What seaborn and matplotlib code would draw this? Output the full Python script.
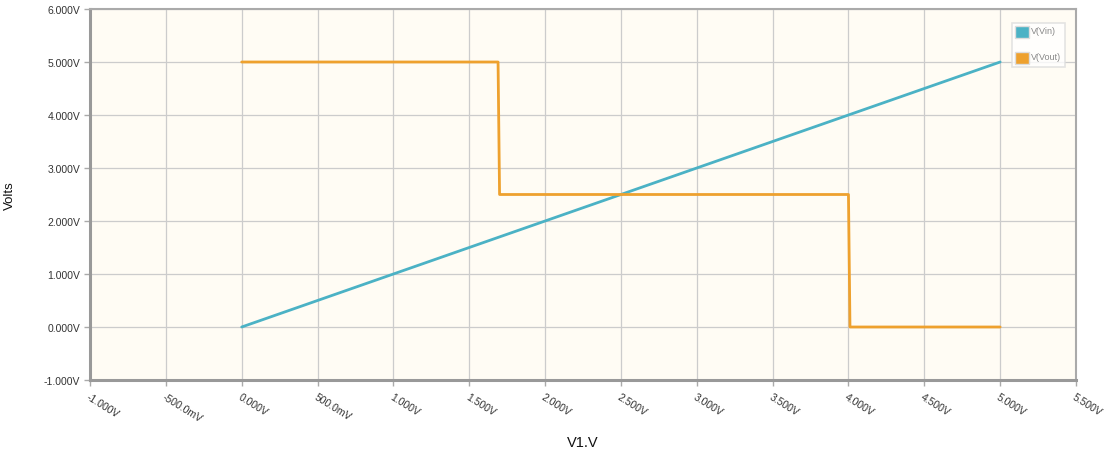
import matplotlib
matplotlib.use("Agg")
import matplotlib.pyplot as plt
import seaborn as sns
import pandas as pd
from matplotlib.patches import Patch

sns.set_theme(style="white")
plt.rcParams['font.family'] = ['Liberation Sans', 'DejaVu Sans']

vin_x = [0.0, 5.0]
vin_y = [0.0, 5.0]
vout_x = [0.0, 1.69, 1.70, 4.0, 4.01, 5.0]
vout_y = [5.0, 5.0, 2.5, 2.5, 0.0, 0.0]

x_ticks = [-1.0, -0.5, 0.0, 0.5, 1.0, 1.5, 2.0, 2.5, 3.0, 3.5, 4.0, 4.5, 5.0, 5.5]
x_labels = ["-1.000V", "-500.0mV", "0.000V", "500.0mV", "1.000V", "1.500V", "2.000V",
            "2.500V", "3.000V", "3.500V", "4.000V", "4.500V", "5.000V", "5.500V"]
y_ticks = [-1, 0, 1, 2, 3, 4, 5, 6]
y_labels = ["-1.000V", "0.000V", "1.000V", "2.000V", "3.000V", "4.000V", "5.000V", "6.000V"]

c_vin = "#4bb2c5"
c_vout = "#eea12e"

df_in = pd.DataFrame({"x": vin_x, "y": vin_y})
df_out = pd.DataFrame({"x": vout_x, "y": vout_y})

fig = plt.figure(figsize=(11.08, 4.6), dpi=100)
ax = fig.add_axes([90/1108, 1-381/460, (1076-90)/1108, (381-10)/460])
ax.set_facecolor("#fffcf4")

sns.lineplot(data=df_in, x="x", y="y", ax=ax, color=c_vin, lw=2, sort=False, estimator=None)
sns.lineplot(data=df_out, x="x", y="y", ax=ax, color=c_vout, lw=2, sort=False, estimator=None)

ax.set_xlim(-1.0, 5.5)
ax.set_ylim(-1.0, 6.0)
ax.set_xticks(x_ticks)
ax.set_xticklabels(x_labels, rotation=-32, ha="left", va="top", rotation_mode="anchor",
                   fontsize=7.5, color="#333333")
ax.set_yticks(y_ticks)
ax.set_yticklabels(y_labels, fontsize=7.5, color="#333333")
ax.grid(True, color="#cccccc", lw=0.9)
ax.set_axisbelow(True)
ax.tick_params(axis="both", which="both", length=4, width=1, color="#aaaaaa", pad=3,
               left=True, bottom=True, direction="out")
ax.tick_params(axis="x", pad=4)

for s in ["top", "right"]:
    ax.spines[s].set_color("#aaaaaa")
    ax.spines[s].set_linewidth(1.5)
for s in ["left", "bottom"]:
    ax.spines[s].set_color("#999999")
    ax.spines[s].set_linewidth(2.2)

ax.set_xlabel("V1.V", fontsize=10.5, color="#111111")
ax.set_ylabel("Volts", fontsize=9.5, color="#111111")
ax.xaxis.set_label_coords(0.5, -0.147)
ax.yaxis.set_label_coords(-0.075, 0.5)

handles = [Patch(facecolor=c_vin, edgecolor="#dddddd", label="V(Vin)"),
           Patch(facecolor=c_vout, edgecolor="#dddddd", label="V(Vout)")]
leg = ax.legend(handles=handles, loc="upper right", bbox_to_anchor=(0.9885, 0.962),
                fontsize=6.5, frameon=True, fancybox=False, handlelength=1.5,
                handleheight=1.7, labelspacing=1.5, borderpad=0.35, handletextpad=0.3,
                borderaxespad=0)
leg.get_frame().set_edgecolor("#dddddd")
leg.get_frame().set_linewidth(1.2)
leg.get_frame().set_facecolor("#ffffff")
for t in leg.get_texts():
    t.set_color("#888888")
    t.set_va("bottom")

fig.savefig("out.png", dpi=100)
